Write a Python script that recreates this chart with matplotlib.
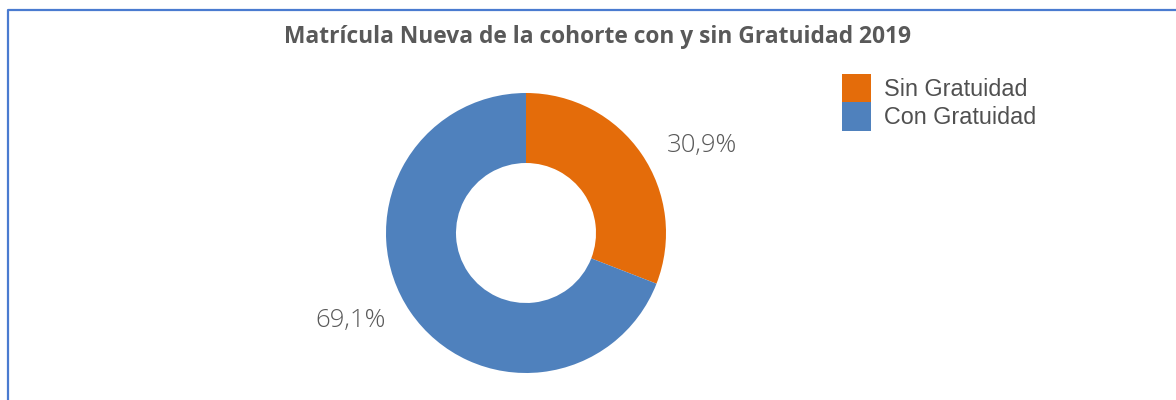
import matplotlib.pyplot as plt
from matplotlib.lines import Line2D
from matplotlib.patches import Patch
import numpy as np

categorias = ['Sin Gratuidad', 'Con Gratuidad']
porcentajes = [30.9, 69.1]
colores = ['#E46C0A', '#4F81BD']

fig = plt.figure(figsize=(11.76, 4), dpi=100)

# donut
ax = fig.add_axes([386 / 1176, 27 / 400, 280 / 1176, 280 / 400])
wedges, _ = ax.pie(porcentajes, colors=colores, startangle=90, counterclock=False,
                   radius=1, wedgeprops=dict(width=0.5, edgecolor='none'))
ax.set_xlim(-1, 1)
ax.set_ylim(-1, 1)
ax.set_aspect('equal')
ax.axis('off')

# etiquetas de porcentaje fuera del anillo
for w, p in zip(wedges, porcentajes):
    ang = np.deg2rad((w.theta1 + w.theta2) / 2 - 8)
    r = 1.40
    ax.text(r * np.cos(ang), r * np.sin(ang), f'{p:.1f}%'.replace('.', ','),
            ha='center', va='center', fontsize=18.5, color='#595959',
            family='Open Sans', fontweight='light', clip_on=False)

fig.text(598 / 1176, 363 / 400, 'Matrícula Nueva de la cohorte con y sin Gratuidad 2019',
         ha='center', va='center', fontsize=16.4, fontweight='bold', color='#595959',
         family='Open Sans')

handles = [Patch(facecolor=c, edgecolor='none') for c in colores]
fig.legend(handles, categorias, loc='upper left', bbox_to_anchor=(842 / 1176, 326 / 400),
           frameon=False, borderpad=0, borderaxespad=0, labelspacing=0,
           handlelength=1.24, handleheight=1.5, handletextpad=0.55,
           prop=dict(family='Liberation Sans', size=16.8), labelcolor='#505050')

# borde azul
fig.add_artist(Line2D([7.5 / 1176, 7.5 / 1176, 1], [0, 390 / 400, 390 / 400],
                      transform=fig.transFigure, color='#4A7BD0', lw=1.6))

fig.savefig('out.png', dpi=100, facecolor='white')
